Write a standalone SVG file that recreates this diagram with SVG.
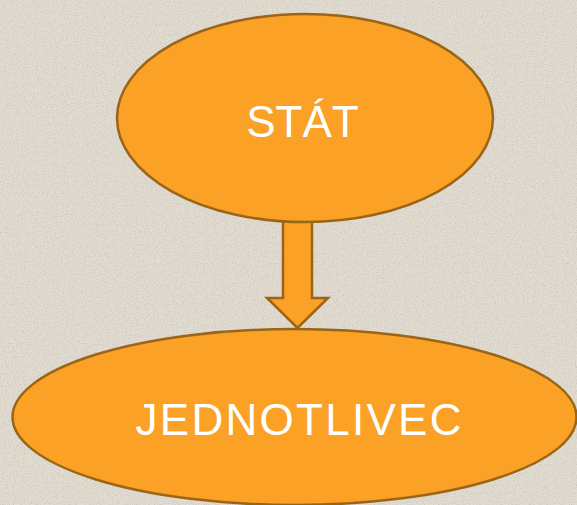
<svg xmlns="http://www.w3.org/2000/svg" width="577" height="505" viewBox="0 0 577 505">
  <defs>
    <filter id="grain" x="0" y="0" width="100%" height="100%">
      <feTurbulence type="fractalNoise" baseFrequency="0.9" numOctaves="2" seed="7" result="n"/>
      <feColorMatrix in="n" type="matrix" values="0 0 0 0 0.45  0 0 0 0 0.42  0 0 0 0 0.38  0 0 0 -2.2 1.25" result="s"/>
      <feComposite in="s" in2="SourceGraphic" operator="in"/>
    </filter>
    <style>
      .node { fill: #faa126; stroke: #9a6516; stroke-width: 2.5; }
      .arrow { fill: #faa126; stroke: #9a6516; stroke-width: 2.5; stroke-linejoin: miter; }
      .label { fill: #ffffff; font-family: "Liberation Sans", Arial, sans-serif; font-size: 44px; text-anchor: middle; }
    </style>
  </defs>
  <rect x="0" y="0" width="577" height="505" fill="#e2dcd1"/>
  <rect x="0" y="0" width="577" height="505" fill="#e2dcd1" filter="url(#grain)" opacity="0.5"/>
  <g id="connectors">
    <polygon class="arrow" points="283,200 312,200 312,298 328,298 297.5,328 267,298 283,298"/>
  </g>
  <g id="node-stat">
    <ellipse class="node" cx="305" cy="118" rx="188" ry="104"/>
    <text class="label" x="302.5" y="137">STÁT</text>
  </g>
  <g id="node-jednotlivec">
    <ellipse class="node" cx="294.5" cy="417" rx="282" ry="88"/>
    <text class="label" x="298.5" y="435" textLength="326" lengthAdjust="spacing">JEDNOTLIVEC</text>
  </g>
</svg>
